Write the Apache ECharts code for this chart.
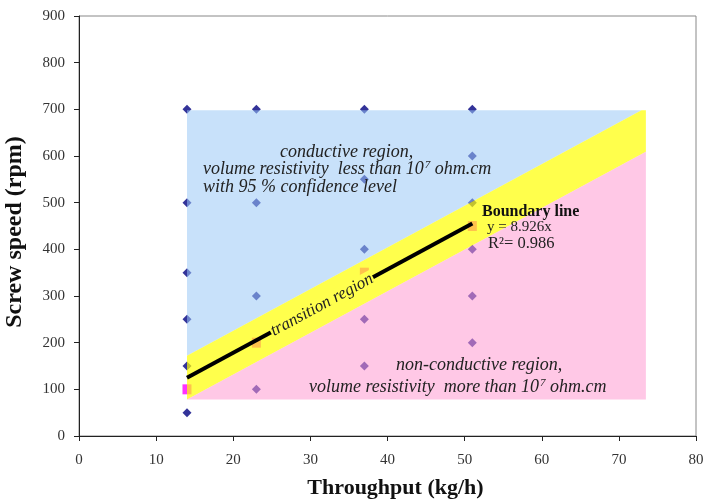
<!DOCTYPE html>
<html>
<head>
<meta charset="utf-8">
<script src="https://cdn.jsdelivr.net/npm/echarts@6/dist/echarts.min.js"></script>
<style>
  html, body { margin: 0; padding: 0; background: #fff; }
  #chart { width: 703px; height: 500px; }
</style>
</head>
<body>
<div id="chart"></div>
<script>
// Throughputs tested (kg/h) and the screw speeds (rpm) run at each of them
const throughputs = [14, 23, 37, 51];
const speedsAt14 = [700, 500, 350, 250, 150, 50];
const speedsAt23 = [700, 500, 300, 100];
const speedsAt37 = [700, 550, 400, 250, 150];
const speedsAt51 = [700, 600, 500, 400, 300, 200];
// Screw speed at which the conductive / non-conductive transition was found
const transitionSpeeds = [100, 200, 350, 450];

// Linear fit through the origin: y = slope * x
const boundarySlope = 8.926;
const boundaryR2 = 0.986;
const boundaryXRange = [14, 51];

// Extent of the shaded process map and half-height of the transition band (rpm)
const mapXRange = [14, 73.5];
const mapYRange = [78, 698];
const bandHalfHeight = 47;

// Axis ranges and tick steps
const xRange = [0, 80], xStep = 10;
const yRange = [0, 900], yStep = 100;

const SERIF = "'Liberation Serif', 'Times New Roman', serif";

// ---- derived geometry for the three shaded regions ----
function clipHalf(poly, f) {            // keep the part where f(p) >= 0
  const out = [];
  for (let i = 0; i < poly.length; i++) {
    const a = poly[i], b = poly[(i + 1) % poly.length];
    const fa = f(a), fb = f(b);
    if (fa >= 0) out.push(a);
    if ((fa >= 0) !== (fb >= 0)) {
      const t = fa / (fa - fb);
      out.push([a[0] + t * (b[0] - a[0]), a[1] + t * (b[1] - a[1])]);
    }
  }
  return out;
}
const rect = [
  [mapXRange[0], mapYRange[0]], [mapXRange[1], mapYRange[0]],
  [mapXRange[1], mapYRange[1]], [mapXRange[0], mapYRange[1]]
];
const upper = x => boundarySlope * x + bandHalfHeight;
const lower = x => boundarySlope * x - bandHalfHeight;
const conductivePoly = clipHalf(rect, p => p[1] - upper(p[0]));
const transitionPoly = clipHalf(clipHalf(rect, p => upper(p[0]) - p[1]), p => p[1] - lower(p[0]));
const nonConductivePoly = clipHalf(rect, p => lower(p[0]) - p[1]);

const speedsByThroughput = [speedsAt14, speedsAt23, speedsAt37, speedsAt51];
const runPoints = [];
throughputs.forEach((x, i) => speedsByThroughput[i].forEach(y => runPoints.push([x, y])));
const transitionPoints = throughputs.map((x, i) => [x, transitionSpeeds[i]]);
const boundaryPoints = boundaryXRange.map(x => [x, boundarySlope * x]);

function regionSeries(name, poly, fill, z) {
  return {
    name, type: 'custom', z, silent: true, clip: false,
    data: [[poly[0][0], poly[0][1]]],
    renderItem: (params, api) => ({
      type: 'polygon',
      shape: { points: poly.map(p => api.coord(p)) },
      style: { fill }
    })
  };
}

const chart = echarts.init(document.getElementById('chart'), null, { renderer: 'canvas' });

const axisCommon = {
  type: 'value',
  splitLine: { show: false },
  axisLine: { show: true, lineStyle: { color: '#222', width: 1 } },
  axisTick: { show: true, inside: false, length: 5, lineStyle: { color: '#222' } },
  nameLocation: 'middle'
};

const textBase = { fontFamily: SERIF, fill: '#222', align: 'left', verticalAlign: 'middle' };
const supStyle = { fontSize: 11, fontStyle: 'italic', fontFamily: SERIF, fill: '#222', verticalAlign: 'top', padding: [0, 0, 0, 1] };

function label(x, y, text, extra, rotationDeg) {
  return {
    type: 'text', x, y, z: 100, silent: true,
    rotation: rotationDeg ? rotationDeg * Math.PI / 180 : 0,
    style: Object.assign({ text }, textBase, extra)
  };
}

const italic18 = { fontSize: 18, fontStyle: 'italic', rich: { sup: supStyle } };

chart.setOption({
  animation: false,
  backgroundColor: '#fff',
  grid: {
    left: 79, right: 7, top: 16, bottom: 64,
    outerBoundsMode: 'none', containLabel: false,
    show: true, borderColor: '#888', borderWidth: 1, backgroundColor: 'transparent'
  },
  xAxis: Object.assign({}, axisCommon, {
    min: xRange[0], max: xRange[1], interval: xStep,
    name: 'Throughput (kg/h)', nameGap: 41,
    nameTextStyle: { fontFamily: SERIF, fontWeight: 'bold', fontSize: 22, color: '#111', padding: [0, 0, 0, 16] },
    axisLabel: { fontFamily: SERIF, fontSize: 15, color: '#333', margin: 17 }
  }),
  yAxis: Object.assign({}, axisCommon, {
    min: yRange[0], max: yRange[1], interval: yStep,
    name: 'Screw speed (rpm)', nameGap: 52,
    nameTextStyle: { fontFamily: SERIF, fontWeight: 'bold', fontSize: 24, color: '#111', padding: [0, 12, 0, 0] },
    axisLabel: { fontFamily: SERIF, fontSize: 15, color: '#333', margin: 14 }
  }),
  series: [
    {
      name: 'runs', type: 'scatter', z: 1, silent: true,
      symbol: 'diamond', symbolSize: 9,
      itemStyle: { color: '#000080' },
      data: runPoints
    },
    {
      name: 'transition', type: 'scatter', z: 1, silent: true,
      symbol: 'rect', symbolSize: [9, 10],
      itemStyle: { color: '#ff00ff' },
      data: transitionPoints
    },
    regionSeries('conductive', conductivePoly, 'rgba(153,199,246,0.54)', 2),
    regionSeries('transition band', transitionPoly, 'rgba(255,255,0,0.7)', 2),
    regionSeries('non-conductive', nonConductivePoly, 'rgba(255,153,209,0.54)', 2),
    {
      name: 'boundary', type: 'line', z: 3, silent: true,
      symbol: 'none',
      lineStyle: { color: '#000', width: 4 },
      data: boundaryPoints
    }
  ],
  graphic: [
    label(280, 152, 'conductive region,', italic18),
    label(203, 169, 'volume resistivity  less than 10{sup|7} ohm.cm', italic18),
    label(203, 187, 'with 95 % confidence level', italic18),
    label(396, 365, 'non-conductive region,', italic18),
    label(309, 387, 'volume resistivity  more than 10{sup|7} ohm.cm', italic18),
    label(482, 212, 'Boundary line', { fontSize: 16, fontWeight: 'bold', fill: '#111' }),
    label(487, 227, 'y = ' + boundarySlope + 'x', { fontSize: 15, fill: '#222' }),
    label(488, 244, 'R\u00b2= ' + boundaryR2, { fontSize: 16.5, fill: '#222' }),
    label(322, 305, 'transition region', {
      fontSize: 17, fontStyle: 'italic', align: 'center',
      backgroundColor: '#ffff4d', padding: [0, 1]
    }, 28.4)
  ]
});
</script>
</body>
</html>
